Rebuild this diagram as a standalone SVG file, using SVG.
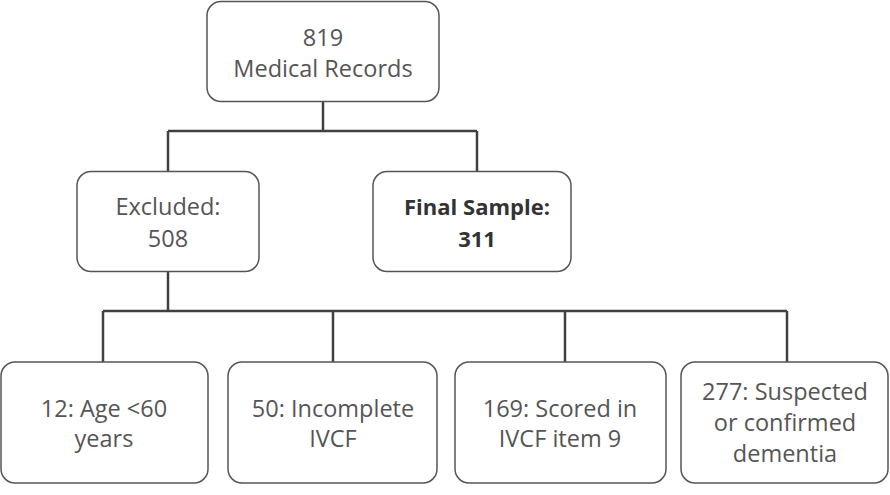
<svg xmlns="http://www.w3.org/2000/svg" width="890" height="495" viewBox="0 0 890 495">
<style>
.box{fill:#fff;stroke:#555;stroke-width:1.5}
.t{font-family:"Open Sans","Liberation Sans",sans-serif;font-size:23.5px;fill:#555;text-anchor:middle}
.b{font-weight:bold;fill:#333;font-size:22px}
.c{fill:none;stroke:#404040;stroke-width:2.5}
</style>
<rect width="890" height="495" fill="#fff"/>
<g id="connectors">
<path class="c" d="M323 101V131M168 131H477M168 131V172M477 131V172"/>
<path class="c" d="M168 272V311M103 311H787M103 311V362M333 311V362M565 311V362M787 311V362"/>
</g>
<g id="n819">
<rect class="box" x="207" y="1.5" width="232" height="100" rx="14"/>
<text class="t" x="323" y="46">819</text>
<text class="t" x="323" y="77">Medical Records</text>
</g>
<g id="excluded">
<rect class="box" x="77" y="171.5" width="182" height="100" rx="14"/>
<text class="t" x="168" y="215">Excluded:</text>
<text class="t" x="168" y="247">508</text>
</g>
<g id="final">
<rect class="box" x="373" y="171.5" width="198" height="100" rx="14"/>
<text class="t b" x="477" y="215">Final Sample:</text>
<text class="t b" x="477" y="247">311</text>
</g>
<g id="age">
<rect class="box" x="1" y="362" width="207" height="121" rx="14"/>
<text class="t" x="104" y="417">12: Age &lt;60</text>
<text class="t" x="104" y="447">years</text>
</g>
<g id="incomplete">
<rect class="box" x="228" y="362" width="209" height="121" rx="14"/>
<text class="t" x="333" y="417">50: Incomplete</text>
<text class="t" x="333" y="447">IVCF</text>
</g>
<g id="scored">
<rect class="box" x="455" y="362" width="211" height="121" rx="14"/>
<text class="t" x="560" y="417">169: Scored in</text>
<text class="t" x="560" y="447">IVCF item 9</text>
</g>
<g id="dementia">
<rect class="box" x="681" y="362" width="207" height="121" rx="14"/>
<text class="t" x="785" y="400">277: Suspected</text>
<text class="t" x="785" y="431">or confirmed</text>
<text class="t" x="785" y="462">dementia</text>
</g>
</svg>
